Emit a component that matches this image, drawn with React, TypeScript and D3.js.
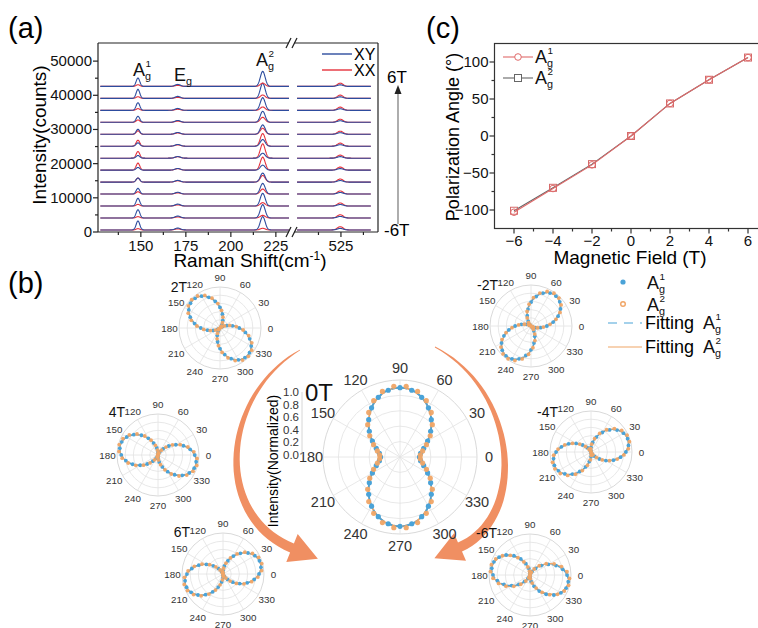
import React from "react";
import * as d3 from "d3";

const FONT = "'Liberation Sans', Arial, Helvetica, sans-serif";

// ---------------- (a) Raman spectra data ----------------
const fieldsA = [-6, -5, -4, -3, -2, -1, 0, 1, 2, 3, 4, 5, 6];
const baselineA = [600, 4100, 7600, 11100, 14600, 18100, 21600, 25100, 28600, 32100, 35600, 39100, 42600];
const a1XY = [2630, 2440, 2240, 1660, 1170, 780, 780, 980, 1460, 1760, 2240, 2630, 2440];
const a1XX = [390, 390, 490, 680, 1170, 2050, 1950, 1760, 980, 680, 490, 490, 490];
const egXY = [550, 560, 560, 520, 500, 480, 480, 500, 520, 540, 560, 580, 580];
const egXX = [300, 300, 320, 340, 380, 420, 420, 400, 360, 330, 300, 300, 300];
const a2XY = [3900, 3900, 3700, 3120, 2630, 1460, 1460, 1950, 2730, 3220, 3700, 4390, 4390];
const a2XX = [490, 780, 980, 1460, 1950, 3800, 4190, 3700, 1760, 1460, 980, 980, 980];
const siXY = [450, 450, 450, 450, 450, 450, 450, 450, 450, 450, 450, 450, 450];
const siXX = [950, 950, 900, 900, 900, 900, 900, 900, 900, 900, 950, 950, 950];
const peakPos = { a1: 148.4, eg: 170.5, a2: 217.7, si: 524.6 };
const peakSig = { a1: 1.0, eg: 1.5, a2: 1.35, si: 1.6 };
const yTicksA = [0, 10000, 20000, 30000, 40000, 50000];
const xTicksLeft = [150, 175, 200, 225];
const xTicksRight = [525];

// ---------------- (c) polarization angle data ----------------
const fieldsC = [-6, -4, -2, 0, 2, 4, 6];
const angA1 = [-103, -71, -39, 0, 44, 76, 106];
const angA2 = [-101, -70, -38, 0, 44, 76, 106];
const xTicksC = [-6, -4, -2, 0, 2, 4, 6];
const yTicksC = [-100, -50, 0, 50, 100];

// ---------------- (b) polar plots ----------------
const polarFields = [2, 4, 6, 0, -2, -4, -6];
const polarFloor = [0.02, 0.02, 0.02, 0.28, 0.02, 0.02, 0.02];
const polarPeak = [0.95, 0.95, 0.95, 0.9, 0.95, 0.95, 0.95];
const angleLabels = [0, 30, 60, 90, 120, 150, 180, 210, 240, 270, 300, 330];
const ringVals = [0.2, 0.4, 0.6, 0.8, 1.0];
const radialLabels = ["0.0", "0.2", "0.4", "0.6", "0.8", "1.0"];

const BLUE = "#2d4c9e";
const RED = "#e5323c";
const PBLUE = "#4aa3d8";
const PORANGE = "#f0a566";
const ARROW = "#f08f62";

const rad = Math.PI / 180;

function SubSup({ x, y, base, sub, sup, size }: any) {
  const w = size * 0.667;
  return (
    <g fontFamily={FONT} fill="#111">
      <text x={x} y={y} fontSize={size}>{base}</text>
      {sup && <text x={x + w + 0.5} y={y - size * 0.52} fontSize={size * 0.55}>{sup}</text>}
      {sub && <text x={x + w} y={y + size * 0.22} fontSize={size * 0.6}>{sub}</text>}
    </g>
  );
}

function PanelA() {
  const L0 = 98, L1 = 289, R0 = 294, R1 = 378, T = 43, B = 232;
  const xl = d3.scaleLinear().domain([126.2, 232.3]).range([L0, L1]);
  const xr = d3.scaleLinear().domain([498.9, 545.6]).range([R0, R1]);
  const y = d3.scaleLinear().domain([0, 55300]).range([B, T]);

  const spec = (i: number, pol: "xy" | "xx", lo: number, hi: number, sx: any) => {
    const pk = [
      { p: peakPos.a1, s: peakSig.a1, h: pol === "xy" ? a1XY[i] : a1XX[i] },
      { p: peakPos.eg, s: peakSig.eg, h: pol === "xy" ? egXY[i] : egXX[i] },
      { p: peakPos.a2, s: peakSig.a2, h: pol === "xy" ? a2XY[i] : a2XX[i] },
      { p: peakPos.si, s: peakSig.si, h: pol === "xy" ? siXY[i] : siXX[i] },
    ];
    const pts: [number, number][] = [];
    for (let x = lo; x <= hi + 1e-9; x += 0.2) {
      let v = baselineA[i];
      for (const q of pk) v += q.h * Math.exp(-0.5 * ((x - q.p) / q.s) ** 2);
      pts.push([x, v]);
    }
    return d3.line<[number, number]>().x((d) => sx(d[0])).y((d) => y(d[1]))(pts) || "";
  };

  const minorL = [137.5, 162.5, 187.5, 212.5];
  const minorR = [512.5, 537.5];
  const minorY = [5000, 15000, 25000, 35000, 45000];

  return (
    <g>
      <text x={8} y={38} fontSize={29} fontFamily={FONT}>(a)</text>
      {fieldsA.map((f, i) => (
        <g key={f} fill="none" strokeWidth={1.1}>
          <path d={spec(i, "xx", 127.5, 232.3, xl)} stroke={RED} />
          <path d={spec(i, "xx", 500.6, 541.7, xr)} stroke={RED} />
          <path d={spec(i, "xy", 127.5, 232.3, xl)} stroke={BLUE} />
          <path d={spec(i, "xy", 500.6, 541.7, xr)} stroke={BLUE} />
        </g>
      ))}
      <g stroke="#222" strokeWidth={1.2} fill="none">
        <line x1={L0} y1={T} x2={L0} y2={B} />
        <line x1={R1} y1={T} x2={R1} y2={B} />
        <line x1={L0} y1={T} x2={L1} y2={T} />
        <line x1={R0} y1={T} x2={R1} y2={T} />
        <line x1={L0} y1={B} x2={L1} y2={B} />
        <line x1={R0} y1={B} x2={R1} y2={B} />
        {[T, B].map((yy) => (
          <g key={yy}>
            <line x1={L1 - 3} y1={yy + 5} x2={L1 + 2} y2={yy - 5} />
            <line x1={R0 - 2} y1={yy + 5} x2={R0 + 3} y2={yy - 5} />
          </g>
        ))}
        {yTicksA.map((t) => (
          <line key={t} x1={L0 - 5} y1={y(t)} x2={L0} y2={y(t)} />
        ))}
        {minorY.map((t) => (
          <line key={t} x1={L0 - 3} y1={y(t)} x2={L0} y2={y(t)} />
        ))}
        {xTicksLeft.map((t) => (
          <line key={t} x1={xl(t)} y1={B} x2={xl(t)} y2={B + 5} />
        ))}
        {minorL.map((t) => (
          <line key={t} x1={xl(t)} y1={B} x2={xl(t)} y2={B + 3} />
        ))}
        {xTicksRight.map((t) => (
          <line key={t} x1={xr(t)} y1={B} x2={xr(t)} y2={B + 5} />
        ))}
        {minorR.map((t) => (
          <line key={t} x1={xr(t)} y1={B} x2={xr(t)} y2={B + 3} />
        ))}
      </g>
      <g fontFamily={FONT} fontSize={15} fill="#111">
        {yTicksA.map((t) => (
          <text key={t} x={L0 - 6} y={y(t) + 5} textAnchor="end">{t}</text>
        ))}
        {xTicksLeft.map((t) => (
          <text key={t} x={xl(t)} y={251} textAnchor="middle">{t}</text>
        ))}
        {xTicksRight.map((t) => (
          <text key={t} x={xr(t)} y={251} textAnchor="middle">{t}</text>
        ))}
      </g>
      <text x={250} y={267} fontSize={19} fontFamily={FONT} textAnchor="middle">
        Raman Shift(cm<tspan dy={-7} fontSize={12}>-1</tspan><tspan dy={7}>)</tspan>
      </text>
      <text transform="translate(46,135) rotate(-90)" fontSize={19} fontFamily={FONT} textAnchor="middle">Intensity(counts)</text>
      <SubSup x={133} y={76} base="A" sub="g" sup="1" size={18} />
      <SubSup x={174} y={81} base="E" sub="g" size={18} />
      <SubSup x={256} y={66} base="A" sub="g" sup="2" size={18} />
      <line x1={322} y1={54} x2={352} y2={54} stroke={BLUE} strokeWidth={1.4} />
      <text x={354} y={60} fontSize={16} fontFamily={FONT}>XY</text>
      <line x1={322} y1={70} x2={352} y2={70} stroke={RED} strokeWidth={1.4} />
      <text x={354} y={76} fontSize={16} fontFamily={FONT}>XX</text>
      <line x1={398} y1={92} x2={398} y2={224} stroke="#777" strokeWidth={1.2} />
      <path d="M398,85 L394.5,94 L401.5,94 Z" fill="#222" />
      <text x={387} y={83} fontSize={17} fontFamily={FONT}>6T</text>
      <text x={384} y={236} fontSize={17} fontFamily={FONT}>-6T</text>
    </g>
  );
}

function PanelC() {
  const L = 494.5, Rr = 767.5, T = 43.5, B = 228.5;
  const x = d3.scaleLinear().domain([-7, 7]).range([L, Rr]);
  const y = d3.scaleLinear().domain([-125, 125]).range([B, T]);
  const line = d3.line<number>().x((_, i) => x(fieldsC[i])).y((d) => y(d));
  const minorX = [-5, -3, -1, 1, 3, 5];
  const minorY = [-75, -25, 25, 75];
  const LINE1 = "#e06a6a";
  const LINE2 = "#666";
  return (
    <g>
      <text x={426} y={38} fontSize={29} fontFamily={FONT}>(c)</text>
      <path d={line(angA2) || ""} fill="none" stroke={LINE2} strokeWidth={1.1} />
      <path d={line(angA1) || ""} fill="none" stroke={LINE1} strokeWidth={1.1} />
      {angA2.map((v, i) => (
        <rect key={"s" + i} x={x(fieldsC[i]) - 3.5} y={y(v) - 3.5} width={7} height={7} fill="none" stroke="#d46a6a" strokeWidth={1} />
      ))}
      {angA1.map((v, i) => (
        <circle key={"c" + i} cx={x(fieldsC[i])} cy={y(v)} r={3.3} fill="none" stroke={LINE1} strokeWidth={1} />
      ))}
      <g stroke="#333" strokeWidth={1.2} fill="none">
        <rect x={L} y={T} width={Rr - L} height={B - T} />
        {xTicksC.map((t) => (
          <line key={t} x1={x(t)} y1={B} x2={x(t)} y2={B + 5} />
        ))}
        {minorX.map((t) => (
          <line key={t} x1={x(t)} y1={B} x2={x(t)} y2={B + 3} />
        ))}
        {yTicksC.map((t) => (
          <line key={t} x1={L - 5} y1={y(t)} x2={L} y2={y(t)} />
        ))}
        {minorY.map((t) => (
          <line key={t} x1={L - 3} y1={y(t)} x2={L} y2={y(t)} />
        ))}
      </g>
      <g fontFamily={FONT} fontSize={15} fill="#111">
        {xTicksC.map((t) => (
          <text key={t} x={x(t)} y={246} textAnchor="middle">{t < 0 ? "\u2212" + Math.abs(t) : t}</text>
        ))}
        {yTicksC.map((t) => (
          <text key={t} x={L - 6} y={y(t) + 5} textAnchor="end">{t < 0 ? "\u2212" + Math.abs(t) : t}</text>
        ))}
      </g>
      <text x={630} y={264} fontSize={19} fontFamily={FONT} textAnchor="middle">Magnetic Field (T)</text>
      <text transform="translate(459,137) rotate(-90)" fontSize={18} fontFamily={FONT} textAnchor="middle">Polarization Angle (°)</text>
      <line x1={503} y1={57} x2={533} y2={57} stroke={LINE1} strokeWidth={1.1} />
      <circle cx={518} cy={57} r={3.3} fill="#fff" stroke={LINE1} />
      <SubSup x={535} y={63} base="A" sub="g" sup="1" size={18} />
      <line x1={503} y1={78} x2={533} y2={78} stroke={LINE2} strokeWidth={1.1} />
      <rect x={514.5} y={74.5} width={7} height={7} fill="#fff" stroke={LINE2} />
      <SubSup x={535} y={84} base="A" sub="g" sup="2" size={18} />
    </g>
  );
}

function Polar({ cx, cy, R, idx, label, ldx, ldy, big }: any) {
  const field = polarFields[idx];
  const ci = fieldsC.indexOf(field);
  const phase = 90 + angA1[ci];
  const phase2 = 90 + angA2[ci];
  const floor = polarFloor[idx];
  const pk = polarPeak[idx];
  const rs = d3.scaleLinear().domain([0, 1]).range([0, R]);
  const P = (deg: number, r: number): [number, number] => [cx + rs(r) * Math.cos(deg * rad), cy - rs(r) * Math.sin(deg * rad)];
  const fit = (deg: number, ph: number) => pk * (floor + (1 - floor) * Math.cos((deg - ph) * rad) ** 2);
  const curve1 = d3.range(0, 361, 2).map((d) => P(d, fit(d, phase)));
  const curve2 = d3.range(0, 361, 2).map((d) => P(d, fit(d, phase2)));
  const ln = d3.line<[number, number]>().curve(d3.curveCardinalClosed);
  const lr = big ? R + 12 : R + 9.5;
  const fs = big ? 14.5 : 9.8;
  const dotR = big ? 2.6 : 1.9;
  return (
    <g>
      <g fill="none" stroke="#dcdcdc" strokeWidth={0.8}>
        {ringVals.map((v) => (
          <circle key={v} cx={cx} cy={cy} r={rs(v)} stroke={v === 1 ? "#cfcfcf" : "#e2e2e2"} />
        ))}
        {angleLabels.map((a) => {
          const [x2, y2] = P(a, 1);
          return <line key={a} x1={cx} y1={cy} x2={x2} y2={y2} stroke="#e2e2e2" />;
        })}
      </g>
      <path d={ln(curve2.slice(0, -1)) || ""} fill="none" stroke={PORANGE} strokeWidth={big ? 1.8 : 1.4} />
      <path d={ln(curve1.slice(0, -1)) || ""} fill="none" stroke={PBLUE} strokeWidth={big ? 1.8 : 1.4} strokeDasharray={big ? "7,2" : "5,1.5"} />
      {d3.range(0, 360, 10).map((d) => {
        const [x, y] = P(d, fit(d, phase));
        return <circle key={"b" + d} cx={x} cy={y} r={dotR} fill={PBLUE} />;
      })}
      {d3.range(5, 360, 10).map((d) => {
        const [x, y] = P(d, fit(d, phase2) * 1.03);
        return <circle key={"o" + d} cx={x} cy={y} r={dotR} fill={PORANGE} opacity={0.95} />;
      })}
      <g fontFamily={FONT} fontSize={fs} fill="#333" textAnchor="middle">
        {angleLabels.map((a) => {
          const [x, y] = P(a, lr / R);
          return (
            <text key={a} x={x} y={y} dominantBaseline="central">{a}</text>
          );
        })}
      </g>
      <text x={cx + ldx} y={cy + ldy} fontSize={big ? 24 : 14} fontFamily={FONT} textAnchor={big ? "start" : "end"} fill="#111">{label}</text>
    </g>
  );
}

function bigArrow(p0: number[], c1: number[], c2: number[], p3: number[], w0: number, w1: number, hw: number, hl: number) {
  const B = (t: number) => {
    const u = 1 - t;
    return [
      u * u * u * p0[0] + 3 * u * u * t * c1[0] + 3 * u * t * t * c2[0] + t * t * t * p3[0],
      u * u * u * p0[1] + 3 * u * u * t * c1[1] + 3 * u * t * t * c2[1] + t * t * t * p3[1],
    ];
  };
  const D = (t: number) => {
    const u = 1 - t;
    return [
      3 * u * u * (c1[0] - p0[0]) + 6 * u * t * (c2[0] - c1[0]) + 3 * t * t * (p3[0] - c2[0]),
      3 * u * u * (c1[1] - p0[1]) + 6 * u * t * (c2[1] - c1[1]) + 3 * t * t * (p3[1] - c2[1]),
    ];
  };
  const left: number[][] = [];
  const right: number[][] = [];
  const N = 40;
  for (let k = 0; k <= N; k++) {
    const t = k / N;
    const p = B(t);
    const d = D(t);
    const len = Math.hypot(d[0], d[1]);
    const n = [-d[1] / len, d[0] / len];
    const w = (w0 + (w1 - w0) * Math.pow(t, 0.8)) / 2;
    left.push([p[0] + n[0] * w, p[1] + n[1] * w]);
    right.push([p[0] - n[0] * w, p[1] - n[1] * w]);
  }
  const pe = B(1);
  const de = D(1);
  const le = Math.hypot(de[0], de[1]);
  const dir = [de[0] / le, de[1] / le];
  const n = [-dir[1], dir[0]];
  const barbL = [pe[0] + n[0] * hw, pe[1] + n[1] * hw];
  const barbR = [pe[0] - n[0] * hw, pe[1] - n[1] * hw];
  const tip = [pe[0] + dir[0] * hl, pe[1] + dir[1] * hl];
  const pts = [...left, barbL, tip, barbR, ...right.reverse()];
  return "M" + pts.map((p) => p[0].toFixed(1) + "," + p[1].toFixed(1)).join("L") + "Z";
}

function PanelB() {
  return (
    <g>
      <text x={8} y={293} fontSize={29} fontFamily={FONT}>(b)</text>
      <path d={bigArrow([300, 350], [222, 395], [212, 515], [292, 548], 0.8, 10, 15, 28)} fill={ARROW} />
      <path d={bigArrow([435, 347], [520, 392], [526, 518], [460, 547], 0.8, 10, 15, 28)} fill={ARROW} />
      <Polar cx={220} cy={328} R={41} idx={0} label="2T" ldx={-33} ldy={-36} />
      <Polar cx={158} cy={455} R={41} idx={1} label="4T" ldx={-33} ldy={-38} />
      <Polar cx={223} cy={574} R={41} idx={2} label="6T" ldx={-33} ldy={-37} />
      <Polar cx={400} cy={457} R={77} idx={3} label="0T" ldx={-95} ldy={-56} big />
      <Polar cx={531} cy={326} R={41} idx={4} label="-2T" ldx={-33} ldy={-36} />
      <Polar cx={591} cy={452} R={41} idx={5} label="-4T" ldx={-33} ldy={-35} />
      <Polar cx={530} cy={575} R={41} idx={6} label="-6T" ldx={-33} ldy={-37} />
      <line x1={302} y1={392} x2={302} y2={455} stroke="#ccc" strokeWidth={0.8} />
      <g fontFamily={FONT} fontSize={11.5} fill="#333" textAnchor="end">
        {radialLabels.map((t, i) => (
          <text key={t} x={299} y={455 - i * 12.6} dominantBaseline="central">{t}</text>
        ))}
      </g>
      <text transform="translate(278,461) rotate(-90)" fontSize={14} fontFamily={FONT} textAnchor="middle">Intensity(Normalized)</text>
      <circle cx={623} cy={282} r={2.6} fill={PBLUE} />
      <SubSup x={647} y={289} base="A" sub="g" sup="1" size={18} />
      <circle cx={623} cy={304} r={2.3} fill="none" stroke={PORANGE} strokeWidth={1.4} />
      <SubSup x={647} y={311} base="A" sub="g" sup="2" size={18} />
      <line x1={608} y1={323} x2={642} y2={323} stroke={PBLUE} strokeWidth={1.2} strokeDasharray="9,7" />
      <text x={645} y={329} fontSize={18} fontFamily={FONT}>Fitting</text>
      <SubSup x={703} y={329} base="A" sub="g" sup="1" size={18} />
      <line x1={608} y1={347} x2={642} y2={347} stroke={PORANGE} strokeWidth={1.2} />
      <text x={645} y={353} fontSize={18} fontFamily={FONT}>Fitting</text>
      <SubSup x={703} y={353} base="A" sub="g" sup="2" size={18} />
    </g>
  );
}

export default function App() {
  return (
    <svg width={758} height={628} viewBox="0 0 758 628" style={{ position: "absolute", left: 0, top: 0, background: "#fff" }}>
      <rect x={0} y={0} width={758} height={628} fill="#fff" />
      <PanelA />
      <PanelC />
      <PanelB />
    </svg>
  );
}
